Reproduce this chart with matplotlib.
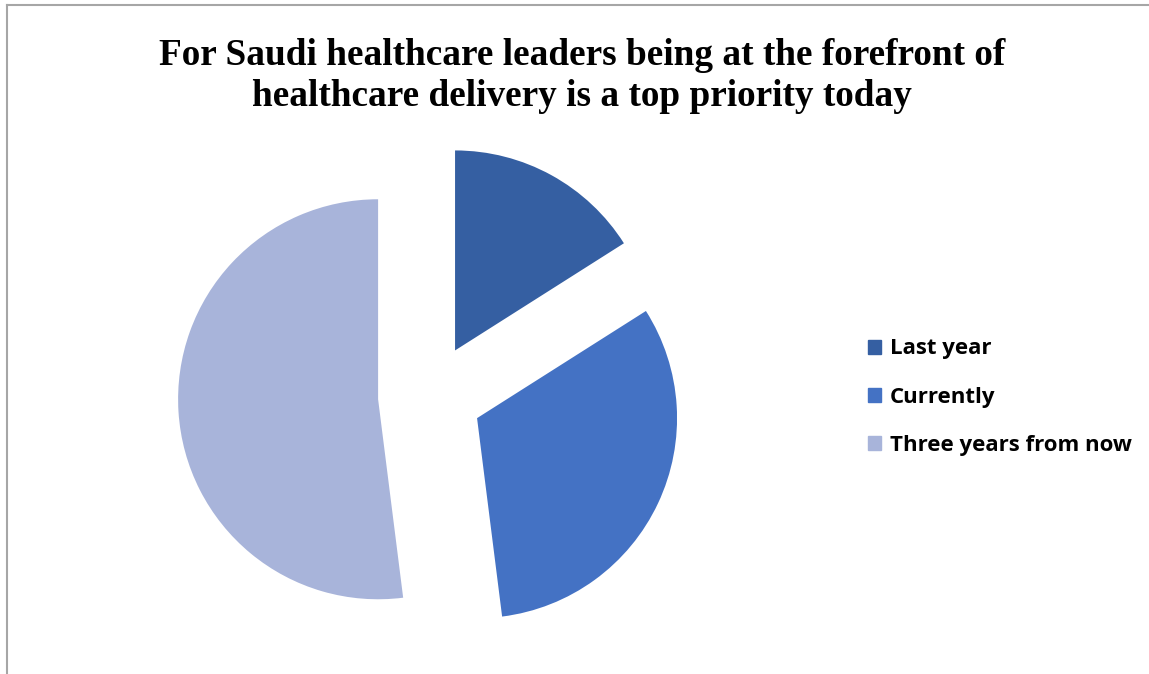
import matplotlib.pyplot as plt
from matplotlib.lines import Line2D

# share of leaders naming it a top priority, by period
labels = ['Last year', 'Currently', 'Three years from now']
shares = [16, 32, 52]
colors = ['#355FA2', '#4472C4', '#A8B4DA']

title = ('For Saudi healthcare leaders being at the forefront of\n'
         'healthcare delivery is a top priority today')

W, H = 1149, 674
fig = plt.figure(figsize=(W / 100, H / 100), dpi=100)
ax = fig.add_axes([0, 0, 1, 1])

wedges, _ = ax.pie(shares, colors=colors, startangle=90, counterclock=False,
                   explode=[0.26] * 3, radius=1.0)

# one data unit = 200 px, pie centred at (430, 396) from top-left
cx, cy, r = 430, 396, 200
ax.set_aspect('auto')
ax.set_xlim(-cx / r, (W - cx) / r)
ax.set_ylim(-(H - cy) / r, cy / r)
ax.axis('off')

fig.text(582 / W, 1 - 76 / H, title, ha='center', va='center',
         fontsize=26.8, fontweight='bold', family='Liberation Serif',
         linespacing=1.19)

# frame edges along top and left
fig.add_artist(Line2D([7 / W, 1], [1 - 5 / H, 1 - 5 / H], color='#A6A6A6', lw=1.5))
fig.add_artist(Line2D([7 / W, 7 / W], [0, 1 - 5 / H], color='#A6A6A6', lw=1.5))

handles = [plt.Rectangle((0, 0), 1, 1, color=c) for c in colors]
fig.legend(handles, labels, loc='center left', bbox_to_anchor=(848 / W, 1 - 397 / H),
           frameon=False, prop={'family': 'Open Sans', 'weight': 'bold', 'size': 16},
           handlelength=0.6, handleheight=0.6, handletextpad=0.4, labelspacing=1.22)

fig.savefig('out.png', dpi=100)
